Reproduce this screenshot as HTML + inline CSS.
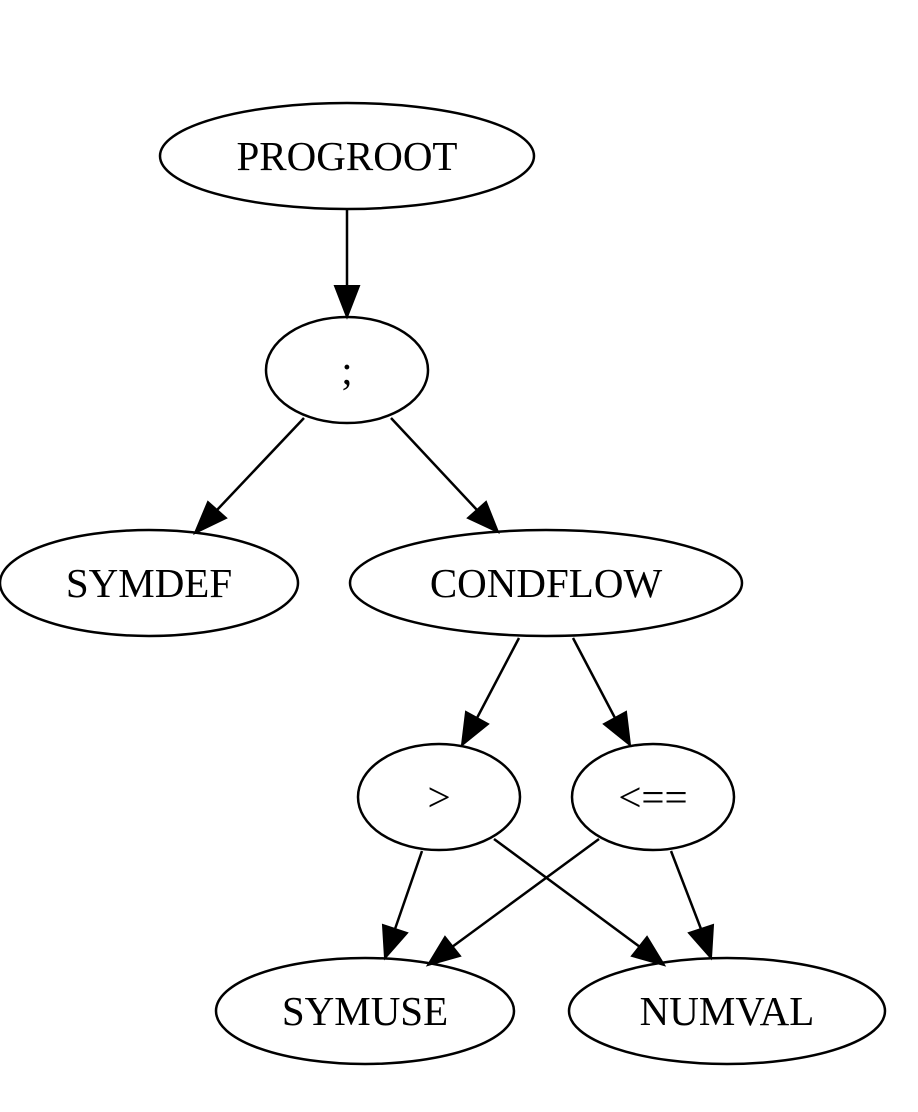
<!DOCTYPE html>
<html><head><meta charset="utf-8"><style>html,body{margin:0;padding:0;background:#fff}svg{display:block}</style></head>
<body>
<svg width="918" height="1112" viewBox="0 0 918 1112" xmlns="http://www.w3.org/2000/svg">
<g fill="none" stroke="#000" stroke-width="2.5">
<ellipse cx="347" cy="156" rx="187" ry="53"/>
<ellipse cx="347" cy="370" rx="81" ry="53"/>
<ellipse cx="149" cy="583" rx="149" ry="53"/>
<ellipse cx="546" cy="583" rx="196" ry="53"/>
<ellipse cx="439" cy="797" rx="81" ry="53"/>
<ellipse cx="653" cy="797" rx="81" ry="53"/>
<ellipse cx="365" cy="1011" rx="149" ry="53"/>
<ellipse cx="727" cy="1011" rx="158" ry="53"/>
</g>
<g stroke="#000" stroke-width="2.5" fill="none">
<line x1="347" y1="210" x2="347" y2="286"/>
<line x1="304" y1="418" x2="217" y2="510"/>
<line x1="391" y1="418" x2="477" y2="510"/>
<line x1="519" y1="638" x2="477" y2="718"/>
<line x1="573" y1="638" x2="615" y2="718"/>
<line x1="422" y1="851" x2="395" y2="929"/>
<line x1="494" y1="839" x2="640" y2="947"/>
<line x1="599" y1="839" x2="452" y2="947"/>
<line x1="671" y1="851" x2="701" y2="929"/>
</g>
<g fill="#000" stroke="#000" stroke-width="2">
<polygon points="347,317 335,286 359,286"/>
<polygon points="195,533 208,502 226,518"/>
<polygon points="498,532 468,518 486,502"/>
<polygon points="462,745 466,712 488,724"/>
<polygon points="630,745 604,724 626,712"/>
<polygon points="385,958 383,925 407,933"/>
<polygon points="664,965 632,956 647,937"/>
<polygon points="428,965 445,937 460,956"/>
<polygon points="711,958 689,933 713,925"/>
</g>
<g font-family="'Liberation Serif', serif" font-size="41" text-anchor="middle" fill="#000">
<text x="347" y="170">PROGROOT</text>
<text x="347" y="384">;</text>
<text x="149" y="597">SYMDEF</text>
<text x="546" y="597">CONDFLOW</text>
<text x="439" y="811">&gt;</text>
<text x="653" y="811">&lt;==</text>
<text x="365" y="1025">SYMUSE</text>
<text x="727" y="1025">NUMVAL</text>
</g>
</svg>
</body></html>
